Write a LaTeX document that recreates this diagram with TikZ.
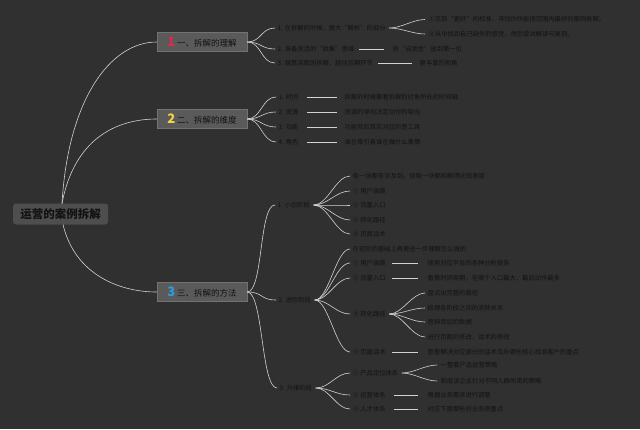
\documentclass[tikz,border=0pt]{standalone}
\usepackage{fontspec}
\setmainfont{Noto Sans CJK SC}
\definecolor{bg}{HTML}{303030}
\definecolor{txt}{HTML}{121212}
\definecolor{ln}{HTML}{D2D2D2}
\definecolor{boxf}{HTML}{5A5A5A}
\definecolor{boxd}{HTML}{727272}
\definecolor{rootf}{HTML}{4E4E4E}
\definecolor{nred}{HTML}{E0284E}
\definecolor{nyel}{HTML}{F2D64A}
\definecolor{nblu}{HTML}{2A9FE0}
\tikzset{
  leaf/.style={anchor=west, inner sep=0.5pt, text=txt, font=\fontsize{6.3}{7}\selectfont},
  conn/.style={draw=ln, line width=0.6pt},
  branchbox/.style={rectangle, fill=boxf, draw=boxd, line width=0.5pt, minimum width=90pt, minimum height=19pt, inner sep=1pt, text=txt, font=\fontsize{8.5}{9}\selectfont},
  rootbox/.style={rectangle, rounded corners=3pt, fill=rootf, minimum width=95pt, minimum height=21pt, inner sep=1pt, text=txt, font=\fontsize{11.5}{12}\selectfont\bfseries},
}
\newcommand{\numb}[2]{{\fontsize{13}{13}\selectfont\bfseries\color{#1}#2}\hspace{2pt}}
\begin{document}
\begin{tikzpicture}[x=1pt,y=-1pt]
\fill[bg] (0,0) rectangle (640,429);
\useasboundingbox (0,0) rectangle (640,429);

% root and branches
\node[rootbox] (root) at (60.5,214) {运营的案例拆解};
\node[branchbox] (b1) at (202,42) {\numb{nred}{1}一、拆解的理解};
\node[branchbox] (b2) at (202,119) {\numb{nyel}{2}二、拆解的维度};
\node[branchbox] (b3) at (202,292) {\numb{nblu}{3}三、拆解的方法};

\coordinate (rt) at (62,203.5);
\coordinate (rb) at (63,224.5);
\draw[conn] (rt) .. controls (68,100) and (110,42) .. (b1.west);
\draw[conn] (rt) .. controls (74,140) and (115,119) .. (b2.west);
\draw[conn] (rb) .. controls (75,275) and (120,292) .. (b3.west);

% ---------- branch 1 ----------
\node[leaf] (c11) at (277,28) {1. 在拆解的时候，放大“解析”的部分};
\node[leaf] (c12) at (277,49) {2. 准备灵活的“收集”思维};
\node[leaf] (c13) at (277,63) {3. 越是深度的拆解，越往后期环节};
\node[leaf] (s111) at (428,19.5) {①见到“更好”的标准，寻找你所能搜范围内最好的案例拆解。};
\node[leaf] (s112) at (428,34) {②从中找到自己缺失的感觉，然后尝试解读与复刻。};
\node[leaf] (s121) at (392,49) {将“自我性”放到第一位};
\node[leaf] (s131) at (419,63) {更丰富的视角};
\foreach \c in {c11,c12,c13}{
  \draw[conn] (b1.east) .. controls +(14,0) and +(-14,0) .. ([xshift=-2pt]\c.west);
}
\foreach \s in {s111,s112}{
  \draw[conn] ([xshift=3pt]c11.east) .. controls +(12,0) and +(-12,0) .. ([xshift=-3pt]\s.west);
}
\draw[conn] ([xshift=4pt]c12.east) -- ([xshift=-8pt]s121.west);
\draw[conn] ([xshift=4pt]c13.east) -- ([xshift=-7pt]s131.west);

% ---------- branch 2 ----------
\node[leaf] (c21) at (278,97) {1. 时间};
\node[leaf] (c22) at (278,112) {2. 资源};
\node[leaf] (c23) at (278,127) {3. 功能};
\node[leaf] (c24) at (278,142) {4. 角色};
\node[leaf] (s21) at (344,97) {拆解的时候要看拆解的对象所处的时间轴};
\node[leaf] (s22) at (344,112) {资源的导向决定动作的导向};
\node[leaf] (s23) at (344,127) {功能背后其实对应的是工具};
\node[leaf] (s24) at (344,142) {谁在牵引着谁在做什么事情};
\foreach \i in {1,2,3,4}{
  \draw[conn] (b2.east) .. controls +(14,0) and +(-14,0) .. ([xshift=-2pt]c2\i.west);
  \draw[conn] ([xshift=8pt]c2\i.east) -- ([xshift=-7pt]s2\i.west);
}

% ---------- branch 3 ----------
\node[leaf] (c31) at (277,205) {1. 小白阶段};
\node[leaf] (c32) at (278,300) {2. 进阶阶段};
\node[leaf] (c33) at (279,388) {3. 升维阶段};
\foreach \c in {c31,c32,c33}{
  \draw[conn] (b3.east) .. controls +(16,0) and +(-16,0) .. ([xshift=-2pt]\c.west);
}

% stage 1
\node[leaf] (d10) at (352,176) {每一块都有涉及到，但每一块都拆解得比较表层};
\node[leaf] (d11) at (352,191) {① 用户画像};
\node[leaf] (d12) at (352,205) {② 流量入口};
\node[leaf] (d13) at (352,220) {③ 转化路径};
\node[leaf] (d14) at (352,234) {④ 页面话术};
\foreach \d in {d10,d11,d12,d13,d14}{
  \draw[conn] ([xshift=3pt]c31.east) .. controls +(14,0) and +(-14,0) .. ([xshift=-2pt]\d.west);
}

% stage 2
\node[leaf] (e0) at (352,249) {在初阶的基础上再更进一步理解怎么做的};
\node[leaf] (e1) at (352,263) {① 用户画像};
\node[leaf] (e2) at (352,278) {② 流量入口};
\node[leaf] (e3) at (352,314) {③ 转化路径};
\node[leaf] (e4) at (352,352) {④ 页面话术};
\foreach \e in {e0,e1,e2,e3,e4}{
  \draw[conn] ([xshift=3pt]c32.east) .. controls +(14,0) and +(-14,0) .. ([xshift=-2pt]\e.west);
}
\node[leaf] (e1a) at (427,263) {搜索对应平台的各种分析报告};
\node[leaf] (e2a) at (427,278) {看看时间周期，在哪个入口最大，最后动作最多};
\node[leaf] (e3a) at (427,293) {盘点出完整的路径};
\node[leaf] (e3b) at (427,308) {梳理各阶段之间的流转关系};
\node[leaf] (e3c) at (427,322) {思辨背后的数据};
\node[leaf] (e3d) at (427,337) {进行页面的修改，话术的修改};
\node[leaf] (e4a) at (427,352) {查看解决对应部分的话术及补哪些核心找准客户的重点};
\draw[conn] ([xshift=6pt]e1.east) -- ([xshift=-9pt]e1a.west);
\draw[conn] ([xshift=6pt]e2.east) -- ([xshift=-9pt]e2a.west);
\draw[conn] ([xshift=6pt]e4.east) -- ([xshift=-9pt]e4a.west);
\foreach \e in {e3a,e3b,e3c,e3d}{
  \draw[conn] ([xshift=3pt]e3.east) .. controls +(13,0) and +(-13,0) .. ([xshift=-2pt]\e.west);
}

% stage 3
\node[leaf] (f1) at (352,373) {① 产品定位体系};
\node[leaf] (f2) at (352,395) {② 运营体系};
\node[leaf] (f3) at (352,409) {③ 人才体系};
\foreach \f in {f1,f2,f3}{
  \draw[conn] ([xshift=3pt]c33.east) .. controls +(14,0) and +(-14,0) .. ([xshift=-2pt]\f.west);
}
\node[leaf] (f1a) at (440,365) {一整套产品运营策略};
\node[leaf] (f1b) at (440,381) {到底该企业针对不同人群所用的策略};
\node[leaf] (f2a) at (427,395) {根据业务需求进行调整};
\node[leaf] (f3a) at (427,409) {对应下面哪些的业务侧重点};
\foreach \f in {f1a,f1b}{
  \draw[conn] ([xshift=3pt]f1.east) .. controls +(12,0) and +(-12,0) .. ([xshift=-3pt]\f.west);
}
\draw[conn] ([xshift=8pt]f2.east) -- ([xshift=-9pt]f2a.west);
\draw[conn] ([xshift=8pt]f3.east) -- ([xshift=-9pt]f3a.west);
\end{tikzpicture}
\end{document}
